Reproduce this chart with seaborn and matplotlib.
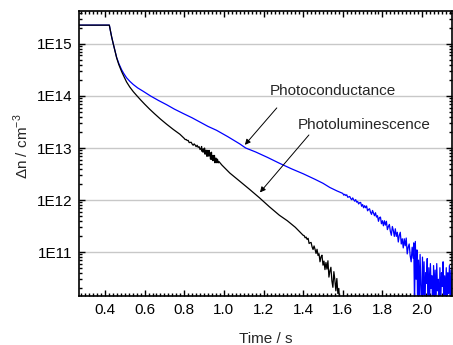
import numpy as np
import pandas as pd
import matplotlib
matplotlib.use("Agg")
import matplotlib.pyplot as plt
import seaborn as sns
from matplotlib.ticker import LogLocator, MultipleLocator, FuncFormatter, NullFormatter

# Photoconductance (blue) - time in s, excess carrier density in cm^-3
pc_t = [0.26, 0.422, 0.428, 0.434, 0.442, 0.45, 0.459, 0.47, 0.484, 0.495,
        0.509, 0.525, 0.543, 0.565, 0.593, 0.63, 0.67, 0.711, 0.75, 0.795,
        0.84, 0.879, 0.92, 0.963, 1.02, 1.08, 1.11, 1.16, 1.22, 1.28,
        1.34, 1.40, 1.46, 1.50, 1.535, 1.57,
        1.600, 1.605, 1.610, 1.615, 1.620, 1.625, 1.630, 1.635, 1.640, 1.645,
        1.650, 1.655, 1.660, 1.665, 1.670, 1.675, 1.680, 1.685, 1.690, 1.695,
        1.700, 1.705, 1.710, 1.715, 1.720, 1.725, 1.730, 1.735, 1.740, 1.745,
        1.750, 1.755, 1.760, 1.765, 1.770, 1.775, 1.780, 1.785, 1.790, 1.795,
        1.800, 1.805, 1.810, 1.815, 1.820, 1.825, 1.830, 1.835, 1.840, 1.845,
        1.850, 1.855, 1.860, 1.865, 1.870, 1.875, 1.880, 1.885, 1.890, 1.895,
        1.900, 1.905, 1.910, 1.915, 1.920, 1.925, 1.930, 1.935, 1.940, 1.945,
        1.950, 1.955,
        1.958, 1.962, 1.966, 1.970, 1.974, 1.978, 1.982, 1.986, 1.990, 1.994,
        1.998, 2.002, 2.006, 2.010, 2.014, 2.018, 2.022, 2.026, 2.030, 2.034,
        2.038, 2.042, 2.046, 2.050, 2.054, 2.058, 2.062, 2.066, 2.070, 2.074,
        2.078, 2.082, 2.086, 2.090, 2.094, 2.098, 2.102, 2.106, 2.110, 2.114,
        2.118, 2.122, 2.126, 2.130, 2.134, 2.138, 2.142, 2.146, 2.150]
pc_n = [2.3e15, 2.3e15, 1.75e15, 1.35e15, 1.0e15, 7.6e14, 5.5e14, 4.2e14, 3.2e14, 2.7e14,
        2.24e14, 1.92e14, 1.66e14, 1.43e14, 1.23e14, 1.0e14, 8.2e13, 6.8e13, 5.6e13, 4.6e13,
        3.8e13, 3.16e13, 2.6e13, 2.19e13, 1.65e13, 1.2e13, 1.0e13, 8.4e12, 6.6e12, 5.1e12,
        4.0e12, 3.2e12, 2.5e12, 2.1e12, 1.74e12, 1.5e12,
        1.34e12, 1.24e12, 1.29e12, 1.22e12, 1.26e12, 1.13e12, 1.15e12, 1.17e12, 1.07e12, 1.01e12,
        1.10e12, 1.01e12, 9.5e11, 1.02e12, 9.1e11, 9.4e11, 8.4e11, 8.9e11, 9.0e11, 7.6e11,
        8.2e11, 7.1e11, 7.8e11, 7.1e11, 7.7e11, 6.2e11, 6.6e11, 6.8e11, 5.8e11, 5.3e11,
        6.3e11, 5.6e11, 5.0e11, 5.7e11, 4.7e11, 5.0e11, 3.9e11, 4.6e11, 4.7e11, 3.5e11,
        4.0e11, 3.2e11, 4.0e11, 3.3e11, 3.9e11, 2.7e11, 3.1e11, 3.4e11, 2.5e11, 2.1e11,
        3.1e11, 2.6e11, 2.0e11, 2.8e11, 2.0e11, 2.4e11, 1.56e11, 2.1e11, 2.4e11, 1.43e11,
        1.8e11, 1.2e11, 1.8e11, 1.32e11, 1.86e11, 9.2e10, 1.24e11, 1.43e11, 8.5e10, 6.5e10,
        1.24e11, 7.6e10,
        1.5e11, 9e9, 1.6e11, 3e10, 1.1e11, 6e9, 7e10, 1.2e10, 9e10, 2.2e10,
        5e9, 8e10, 1.5e10, 6.5e10, 7e9, 4e10, 2.5e10, 7.5e10, 6e9, 5e10,
        1.1e10, 6e10, 2e10, 3.5e10, 5e9, 5.5e10, 1.3e10, 4.5e10, 8e9, 6e10,
        1.8e10, 3e10, 6e9, 5e10, 1.0e10, 4e10, 2.2e10, 6.5e10, 7e9, 3.5e10,
        1.2e10, 5e10, 6e9, 4e10, 1.6e10, 5.5e10, 8e9, 4.5e10, 1.4e10]

# Photoluminescence (black)
pl_t = [0.26, 0.422, 0.428, 0.434, 0.442, 0.45, 0.459, 0.47, 0.484, 0.495,
        0.509, 0.525, 0.543, 0.56, 0.58, 0.60, 0.625, 0.65, 0.68, 0.71,
        0.745, 0.778,
        0.800, 0.805, 0.810, 0.815, 0.820, 0.825, 0.830, 0.835, 0.840, 0.845,
        0.850, 0.855, 0.860, 0.865, 0.870, 0.875, 0.880, 0.885,
        0.8875, 0.8900, 0.8925, 0.8950, 0.8975, 0.9000, 0.9025, 0.9050, 0.9075, 0.9100,
        0.9125, 0.9150, 0.9175, 0.9200, 0.9225, 0.9250, 0.9275, 0.9300, 0.9325, 0.9350,
        0.9375, 0.9400, 0.9425, 0.9450, 0.9475, 0.9500, 0.9525, 0.9550, 0.9575, 0.9600,
        0.9625, 0.9650, 0.9675, 0.9700, 0.9725, 0.9750,
        0.99, 1.03, 1.08, 1.13, 1.18, 1.23, 1.28, 1.32, 1.36, 1.40,
        1.405, 1.410, 1.415, 1.420, 1.425, 1.430, 1.435, 1.440, 1.445, 1.450,
        1.455, 1.460, 1.465, 1.470, 1.475, 1.480, 1.485, 1.490, 1.495, 1.500,
        1.505, 1.510, 1.515, 1.520, 1.525, 1.530, 1.535, 1.540, 1.545, 1.550,
        1.555, 1.560, 1.565, 1.570, 1.575, 1.580, 1.585, 1.590]
pl_n = [2.3e15, 2.3e15, 1.75e15, 1.35e15, 1.0e15, 7.5e14, 5.4e14, 4.0e14, 2.95e14, 2.4e14,
        1.86e14, 1.49e14, 1.21e14, 1.02e14, 8.4e13, 6.98e13, 5.6e13, 4.56e13, 3.6e13, 2.89e13,
        2.27e13, 1.84e13,
        1.53e13, 1.45e13, 1.46e13, 1.39e13, 1.40e13, 1.27e13, 1.28e13, 1.29e13, 1.19e13, 1.13e13,
        1.20e13, 1.14e13, 1.06e13, 1.13e13, 1.03e13, 1.06e13, 9.3e12, 9.9e12,
        1.07e13, 8.6e12, 9.5e12, 8.3e12, 9.6e12, 8.6e12, 9.98e12, 7.6e12, 8.6e12, 9.1e12,
        7.6e12, 6.9e12, 9.0e12, 8.1e12, 7.0e12, 9.0e12, 7.1e12, 8.1e12, 6.1e12, 7.6e12,
        8.3e12, 6.0e12, 7.1e12, 5.7e12, 7.2e12, 6.1e12, 7.2e12, 5.2e12, 6.1e12, 6.4e12,
        5.4e12, 5.2e12, 6.1e12, 5.6e12, 5.2e12, 5.5e12,
        4.7e12, 3.3e12, 2.3e12, 1.6e12, 1.1e12, 7.4e11, 5.1e11, 4.0e11, 3.0e11, 2.1e11,
        2.07e11, 1.88e11, 1.94e11, 1.75e11, 1.84e11, 1.46e11, 1.51e11, 1.53e11, 1.26e11, 1.12e11,
        1.31e11, 1.13e11, 9.4e10, 1.13e11, 8.6e10, 9.3e10, 6.5e10, 8.1e10, 8.7e10, 5.6e10,
        6.7e10, 4.6e10, 6.3e10, 4.7e10, 6.8e10, 3.3e10, 4.3e10, 5.1e10, 2.8e10, 2.1e10,
        4.2e10, 2.9e10, 1.8e10, 3.1e10, 1.6e10, 2.0e10, 9e9, 5e9]

y_major = [1e11, 1e12, 1e13, 1e14, 1e15]

sns.set_style("ticks")
plt.rcParams['font.family'] = ['Liberation Sans', 'DejaVu Sans']
plt.rcParams['mathtext.fontset'] = 'custom'
plt.rcParams['mathtext.rm'] = 'Liberation Sans'
plt.rcParams['font.size'] = 11

fig = plt.figure(figsize=(4.53, 3.45), dpi=100)
ax = fig.add_axes([79 / 453, 1 - 296 / 345, (452 - 79) / 453, (296 - 11) / 345])
ax.set_yscale('log')

# horizontal grid at the decades only
for y in y_major:
    ax.axhline(y, color='#c8c8c8', lw=1.0, zorder=0)

sns.lineplot(x=pc_t, y=pc_n, ax=ax, color='#0000ff', lw=0.9,
             estimator=None, sort=False)
sns.lineplot(x=pl_t, y=pl_n, ax=ax, color='black', lw=0.9,
             estimator=None, sort=False)

ax.set_xlim(0.269, 2.151)
ax.set_ylim(1.43e10, 4.3e15)

ax.xaxis.set_major_locator(MultipleLocator(0.2))
ax.xaxis.set_minor_locator(MultipleLocator(0.02))
ax.xaxis.set_major_formatter(FuncFormatter(lambda v, p: f"{v:.1f}"))
ax.yaxis.set_major_locator(LogLocator(base=10, numticks=20))
ax.yaxis.set_minor_locator(LogLocator(base=10, subs=np.arange(2, 10), numticks=20))
ax.yaxis.set_major_formatter(FuncFormatter(lambda v, p: f"1E{int(round(np.log10(v)))}"))
ax.yaxis.set_minor_formatter(NullFormatter())

ax.tick_params(which='both', direction='in', top=True, right=True,
               labelsize=11, width=1.0, colors='black')
ax.tick_params(which='major', length=4, pad=5)
ax.tick_params(which='minor', length=2)
for s in ax.spines.values():
    s.set_linewidth(1.2)
    s.set_color('black')

ax.set_xlabel("Time / s", fontsize=11, labelpad=11)
ax.set_ylabel(r"$\Delta$n / cm$^{\mathregular{-3}}$", fontsize=11)
ax.yaxis.set_label_coords(-0.13, 0.525)

arrow = dict(arrowstyle='-|>', color='black', lw=0.7, mutation_scale=8,
             shrinkA=0, shrinkB=0)
ax.annotate('', xy=(1.106, 1.15e13), xytext=(1.267, 5.9e13), arrowprops=arrow)
ax.annotate('', xy=(1.182, 1.4e12), xytext=(1.429, 1.78e13), arrowprops=arrow)
ax.text(1.232, 1.05e14, "Photoconductance", ha='left', va='baseline', fontsize=11)
ax.text(1.373, 2.27e13, "Photoluminescence", ha='left', va='baseline', fontsize=11)

fig.savefig("out.png", dpi=100)
